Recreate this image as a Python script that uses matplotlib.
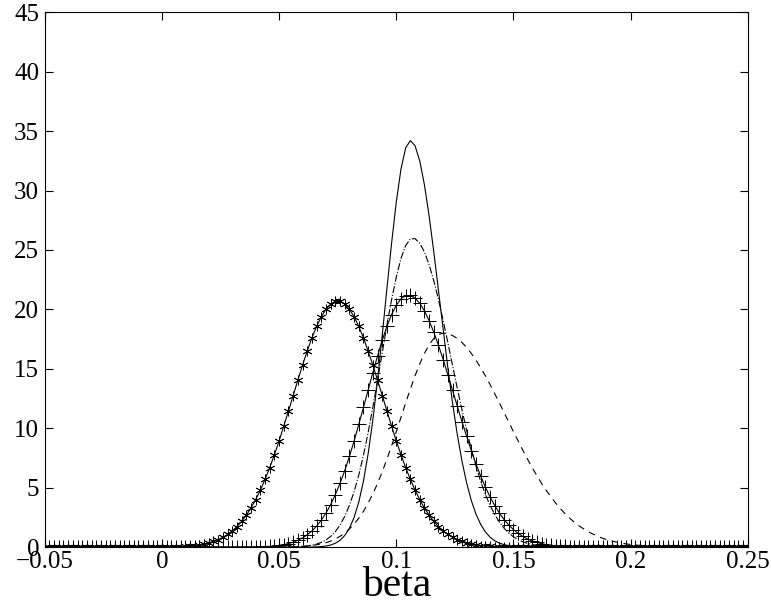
import matplotlib
matplotlib.use('Agg')
import matplotlib.pyplot as plt
import numpy as np

# sample grid of the curves: beta from -0.05 to 0.25, step 0.002 (151 points)
beta = np.linspace(-0.05, 0.25, 151)

# asterisk curve (peak ~20.7 near 0.075)
star_vals = [0] * 23 + [
    0.01, 0.01, 0.01, 0.02, 0.02, 0.03, 0.05, 0.07, 0.10, 0.14,
    0.19, 0.26, 0.36, 0.48, 0.63, 0.83, 1.07, 1.37, 1.73, 2.17,
    2.69, 3.30, 4.00, 4.80, 5.70, 6.69, 7.78, 8.94, 10.18, 11.45,
    12.75, 14.05, 15.31, 16.50, 17.60, 18.57, 19.38, 20.02, 20.45, 20.67,
    20.67, 20.45, 20.02, 19.38, 18.57, 17.60, 16.50, 15.31, 14.05, 12.75,
    11.45, 10.18, 8.94, 7.78, 6.69, 5.70, 4.80, 4.00, 3.30, 2.69,
    2.17, 1.73, 1.37, 1.07, 0.83, 0.63, 0.48, 0.36, 0.26, 0.19,
    0.14, 0.10, 0.07, 0.05, 0.03, 0.02, 0.02, 0.01, 0.01, 0.01,
] + [0] * 48

# plus curve (peak ~21.2 near 0.105)
plus_vals = [0] * 43 + [
    0.01, 0.01, 0.02, 0.03, 0.05, 0.07, 0.11, 0.15, 0.22, 0.30,
    0.42, 0.58, 0.78, 1.04, 1.36, 1.77, 2.27, 2.87, 3.58, 4.43,
    5.37, 6.44, 7.63, 8.93, 10.33, 11.75, 13.23, 14.69, 16.09, 17.40,
    18.57, 19.57, 20.35, 20.89, 21.16,
    21.17, 20.95, 20.52, 19.88, 19.05, 18.08, 16.98, 15.78, 14.50, 13.18,
    11.87, 10.57, 9.33, 8.13, 7.01, 5.99, 5.06, 4.23, 3.50, 2.87,
    2.32, 1.86, 1.48, 1.16, 0.90, 0.69, 0.53, 0.40, 0.29, 0.22,
    0.16, 0.11, 0.08, 0.06, 0.04, 0.03, 0.02, 0.01, 0.01,
] + [0] * 34

# solid curve (peak ~34.2 at 0.106)
solid_vals = [0] * 57 + [
    0.01, 0.02, 0.05, 0.10, 0.18, 0.33, 0.58, 0.98, 1.59, 2.51,
    3.80, 5.57, 7.87, 10.70, 14.06, 17.82, 21.75, 25.58, 29.04, 31.81,
    33.59, 34.20,
    33.77, 32.50, 30.48, 27.87, 24.84, 21.59, 18.27, 15.08, 12.13, 9.50,
    7.26, 5.41, 3.93, 2.78, 1.92, 1.29, 0.84, 0.54, 0.34, 0.21,
    0.12, 0.07, 0.04, 0.02, 0.01,
] + [0] * 47

# dash-dot curve (peak ~26 near 0.107)
dashdot_vals = [0] * 52 + [
    0.01, 0.02, 0.04, 0.06, 0.10, 0.16, 0.26, 0.40, 0.61, 0.90,
    1.31, 1.86, 2.59, 3.52, 4.67, 6.08, 7.74, 9.65, 11.78, 14.03,
    16.35, 18.67, 20.83, 22.72, 24.29, 25.37, 25.93,
    25.95, 25.57, 24.83, 23.77, 22.40, 20.83, 19.06, 17.20, 15.28, 13.38,
    11.56, 9.84, 8.25, 6.82, 5.54, 4.44, 3.52, 2.74, 2.11, 1.59,
    1.19, 0.87, 0.63, 0.45, 0.32, 0.22, 0.15, 0.10, 0.07, 0.04,
    0.03, 0.02, 0.01,
] + [0] * 39

# dashed curve (peak ~18 at 0.12)
dashed_vals = [0] * 50 + [
    0.01, 0.01, 0.02, 0.03, 0.05, 0.07, 0.10, 0.14, 0.20, 0.28,
    0.38, 0.51, 0.69, 0.91, 1.18, 1.53, 1.94, 2.44, 3.02, 3.71,
    4.49, 5.36, 6.34, 7.40, 8.53, 9.71, 10.92, 12.13, 13.30, 14.42,
    15.42, 16.30, 17.03, 17.56, 17.89, 18.00,
    17.95, 17.80, 17.56, 17.22, 16.81, 16.30, 15.73, 15.09, 14.42, 13.69,
    12.92, 12.13, 11.32, 10.51, 9.71, 8.92, 8.15, 7.40, 6.68, 6.01,
    5.36, 4.77, 4.22, 3.71, 3.24, 2.82, 2.44, 2.09, 1.79, 1.53,
    1.29, 1.09, 0.91, 0.75, 0.62, 0.51, 0.42, 0.34, 0.28, 0.22,
    0.18, 0.14, 0.11, 0.09, 0.07, 0.05, 0.04, 0.03, 0.02, 0.02,
    0.01, 0.01,
] + [0] * 13

x_ticks = [-0.05, 0, 0.05, 0.1, 0.15, 0.2, 0.25]
x_tick_labels = ['\u22120.05', '0', '0.05', '0.1', '0.15', '0.2', '0.25']
y_ticks = [0, 5, 10, 15, 20, 25, 30, 35, 40, 45]

plt.rcParams['font.family'] = ['Liberation Serif', 'DejaVu Serif']

fig = plt.figure(figsize=(7.71, 6.10), dpi=100)
ax = fig.add_axes([0.058, 0.103, 0.912, 0.877])

lw = 0.8
ax.plot(beta, solid_vals, '-', color='k', lw=lw)
ax.plot(beta, dashdot_vals, '-.', color='k', lw=lw)
ax.plot(beta, dashed_vals, '--', color='k', lw=lw, dashes=(6, 5))
ax.plot(beta, plus_vals, '-', color='k', lw=lw, marker='+', ms=10, mew=0.7)
ax.plot(beta, star_vals, '-', color='k', lw=lw, marker=(6, 2, 0), ms=7, mew=0.6)

ax.set_xlim(-0.05, 0.25)
ax.set_ylim(0, 45)
ax.set_xticks(x_ticks)
ax.set_xticklabels(x_tick_labels)
ax.set_yticks(y_ticks)
ax.tick_params(direction='in', length=6, width=0.8, labelsize=18,
               top=True, right=True)
ax.tick_params(axis='x', pad=3)
ax.tick_params(axis='y', pad=4)
for s in ax.spines.values():
    s.set_linewidth(0.8)
ax.set_xlabel('beta', fontsize=30, labelpad=-5)

fig.savefig('out.png', dpi=100)
